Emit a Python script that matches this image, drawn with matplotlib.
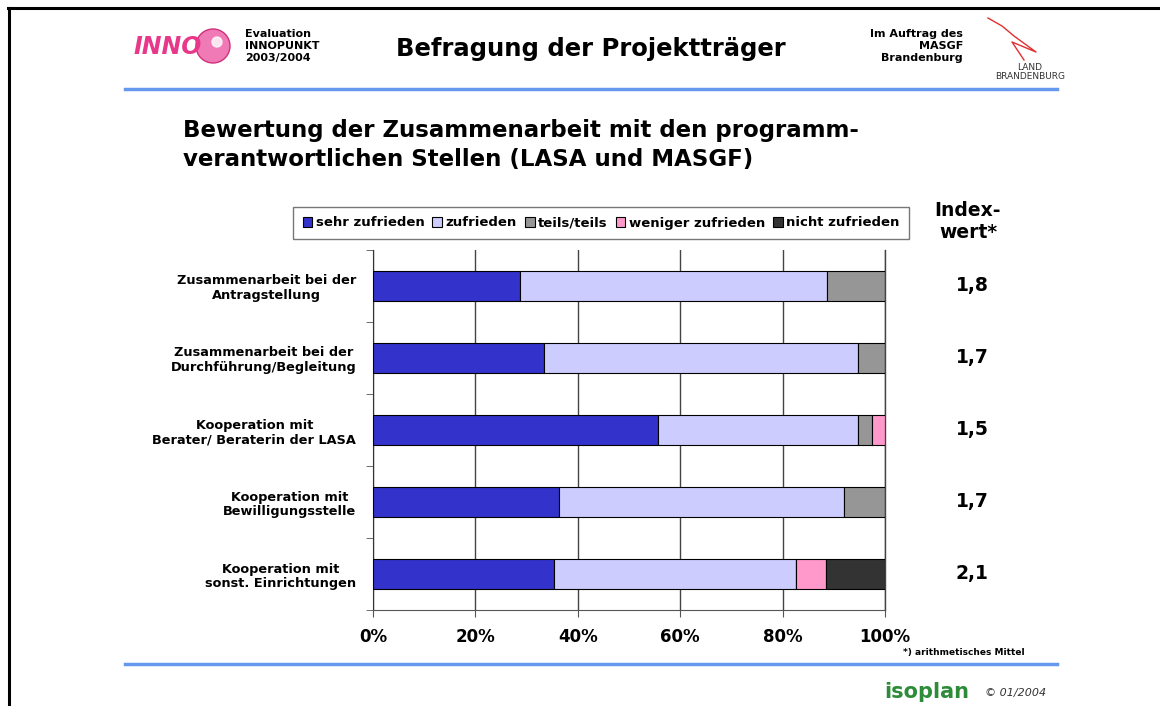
import numpy as np
import matplotlib.pyplot as plt
from matplotlib.patches import Ellipse
from matplotlib.lines import Line2D

# Données
categories = ['Zusammenarbeit bei der\nAntragstellung',
              'Zusammenarbeit bei der\nDurchführung/Begleitung',
              'Kooperation mit\nBerater/ Beraterin der LASA',
              'Kooperation mit\nBewilligungsstelle',
              'Kooperation mit\nsonst. Einrichtungen']
sehr_zufrieden = [28.8, 33.4, 55.7, 36.3, 35.4]
zufrieden = [59.8, 61.3, 39.0, 55.6, 47.2]
teils_teils = [11.4, 5.3, 2.8, 8.1, 0.0]
weniger_zufrieden = [0.0, 0.0, 2.5, 0.0, 5.9]
nicht_zufrieden = [0.0, 0.0, 0.0, 0.0, 11.5]
indexwerte = ['1,8', '1,7', '1,5', '1,7', '2,1']
series_labels = ['sehr zufrieden', 'zufrieden', 'teils/teils', 'weniger zufrieden', 'nicht zufrieden']
series_colors = ['#3333CC', '#CCCCFF', '#969696', '#FF99CC', '#333333']
x_ticks = [0, 20, 40, 60, 80, 100]

W, H = 1160, 706
fig = plt.figure(figsize=(W / 100, H / 100), dpi=100)


def fx(px):
    return px / W


def fy(py):
    return 1 - py / H


# Cadre et lignes bleues
fig.add_artist(Line2D([fx(9), fx(9)], [fy(8), fy(706)], color='black', lw=2.2))
fig.add_artist(Line2D([fx(8), fx(1160)], [fy(8), fy(8)], color='black', lw=2.2))
fig.add_artist(Line2D([fx(125), fx(1057)], [fy(89), fy(89)], color='#6699EE', lw=2.5))
fig.add_artist(Line2D([fx(125), fx(1057)], [fy(664), fy(664)], color='#6699EE', lw=2.5))

# En-tête
fig.text(fx(134), fy(47), 'INNO', color='#E8388A', fontsize=17, fontweight='bold',
         fontstyle='italic', va='center', ha='left')
fig.add_artist(Ellipse((fx(213), fy(46)), 34 / W, 34 / H, transform=fig.transFigure,
                       color='#F07AB5', ec='#D0307A', lw=1))
fig.add_artist(Ellipse((fx(217), fy(42)), 10 / W, 10 / H, transform=fig.transFigure,
                       color='white', alpha=0.8))
fig.text(fx(245), fy(46), 'Evaluation\nINNOPUNKT\n2003/2004', fontsize=8, fontweight='bold',
         va='center', ha='left', linespacing=1.2)
fig.text(fx(591), fy(49), 'Befragung der Projektträger', fontsize=17.5, fontweight='heavy',
         va='center', ha='center')
fig.text(fx(963), fy(46), 'Im Auftrag des\nMASGF\nBrandenburg', fontsize=8, fontweight='bold',
         va='center', ha='right', linespacing=1.2)
fig.add_artist(Line2D([fx(988), fx(1002), fx(1014), fx(1036), fx(1012), fx(1024)],
                      [fy(18), fy(26), fy(36), fy(52), fy(42), fy(60)], color='#E03030', lw=1))
fig.text(fx(1030), fy(72), 'LAND\nBRANDENBURG', fontsize=6.5, color='#333333',
         va='center', ha='center', linespacing=1.0)

# Titre
fig.text(fx(183), fy(145), 'Bewertung der Zusammenarbeit mit den programm-\nverantwortlichen Stellen (LASA und MASGF)',
         fontsize=16.5, fontweight='bold', va='center', ha='left', linespacing=1.35)

# Graphique
ax = fig.add_axes([fx(373), fy(610), fx(885) - fx(373), (610 - 250) / H])
y = np.arange(len(categories))
left = np.zeros(len(categories))
for vals, lab, col in zip([sehr_zufrieden, zufrieden, teils_teils, weniger_zufrieden, nicht_zufrieden],
                          series_labels, series_colors):
    ax.barh(y, vals, left=left, height=0.41, color=col, edgecolor='black', lw=0.8,
            label=lab, zorder=3)
    left += np.array(vals)

ax.set_xlim(0, 100)
ax.set_ylim(4.5, -0.5)
ax.set_xticks(x_ticks)
ax.set_xticklabels([f'{t}%' for t in x_ticks], fontsize=12, fontweight='bold')
ax.set_yticks(y)
ax.set_yticklabels(categories, fontsize=9.3, fontweight='bold', multialignment='center')
ax.tick_params(axis='y', length=0, pad=12)
ax.set_yticks(np.arange(-0.5, 5, 1), minor=True)
ax.tick_params(axis='y', which='minor', length=5, color='#555555')
ax.tick_params(axis='x', length=5, color='#555555', pad=8)
ax.grid(axis='x', color='#444444', lw=1, zorder=0)
ax.axvline(100, color='#444444', lw=1, zorder=0, clip_on=False)
for s in ['top', 'right']:
    ax.spines[s].set_visible(False)
ax.spines['left'].set_color('#333333')
ax.spines['bottom'].set_color('#555555')

# Légende
leg = fig.legend(loc='center', bbox_to_anchor=(fx(601), fy(223)), ncol=5, frameon=True,
                 fancybox=False, edgecolor='#555555', handlelength=0.75, handleheight=0.75,
                 handletextpad=0.25, columnspacing=0.6, borderpad=0.75, borderaxespad=0,
                 prop={'size': 9.5, 'weight': 'bold'})
leg.get_frame().set_linewidth(1.0)

# Indexwerte
fig.text(fx(968), fy(221), 'Index-\nwert*', fontsize=13.5, fontweight='bold', va='center',
         ha='center', linespacing=1.2)
for i, val in enumerate(indexwerte):
    ax.text(1.17, i, val, transform=ax.get_yaxis_transform(), fontsize=13.5, fontweight='bold',
            va='center', ha='center')

fig.text(fx(1025), fy(652), '*) arithmetisches Mittel', fontsize=6.5, fontweight='bold',
         va='center', ha='right')

# Pied de page
fig.text(fx(927), fy(692), 'isoplan', fontsize=15, fontweight='bold', color='#2E8B3A',
         va='center', ha='center')
fig.text(fx(985), fy(693), '© 01/2004', fontsize=8, fontstyle='italic', color='#333333',
         va='center', ha='left')

fig.savefig('out.png', dpi=100)
